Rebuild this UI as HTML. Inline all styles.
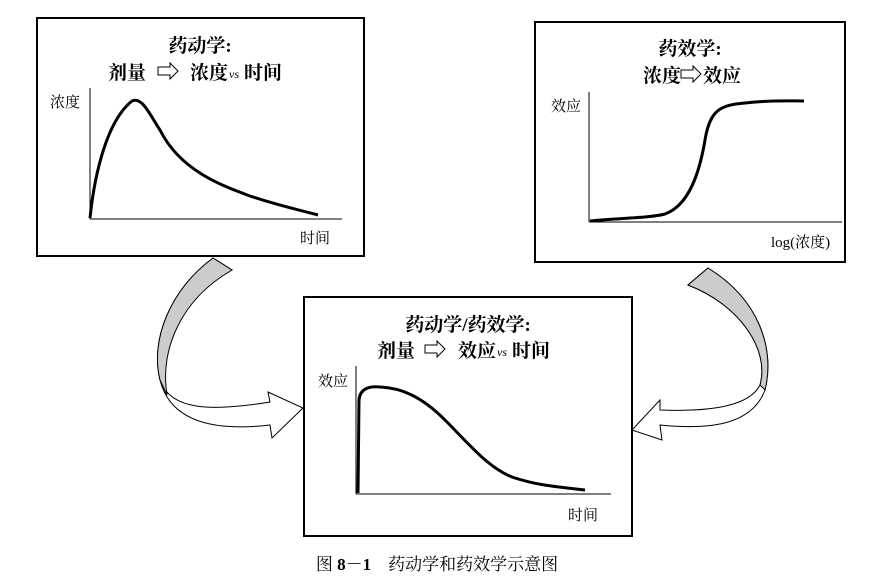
<!DOCTYPE html>
<html><head><meta charset="utf-8"><style>
html,body{margin:0;padding:0;background:#fff;}
svg{display:block;}
text{font-family:"Liberation Serif","Noto Serif CJK SC","Noto Sans CJK SC",serif;fill:#000;}
.t{font-weight:bold;font-size:19px;}
.l{font-size:15px;}
</style></head><body>
<svg width="876" height="580" viewBox="0 0 876 580" xmlns="http://www.w3.org/2000/svg">
<defs>
<g id="ha"><path d="M0,-4 H12 V-8 L20,0 L12,8 V4 H0 Z" fill="#fff" stroke="#000" stroke-width="1"/></g>
</defs>
<!-- left curved arrow -->
<path d="M213,258 C170,290 150,340 160,380 C170,410 210,412 270,402 L268,392 L303,408 L272,438 L270,425 C210,432 170,420 160,380 C150,340 180,300 232,270 Z" fill="#fff" stroke="#000" stroke-width="1"/>
<path d="M213,258 C170,290 150,340 160,380 L167,395 C160,350 180,300 232,270 Z" fill="#ccc" stroke="#000" stroke-width="1"/>
<!-- right curved arrow -->
<path d="M708,268 C760,300 775,350 765,390 C752,425 710,430 660,425 L662,440 L632,430 L660,400 L660,410 C715,412 750,405 760,385 C770,350 740,305 688,285 Z" fill="#fff" stroke="#000" stroke-width="1"/>
<path d="M708,268 C760,300 775,350 765,390 L760,385 C770,350 740,305 688,285 Z" fill="#ccc" stroke="#000" stroke-width="1"/>

<!-- box1 -->
<rect x="37" y="18" width="327" height="238" fill="#fff" stroke="#000" stroke-width="2"/>
<text class="t" x="200" y="52" text-anchor="middle">药动学:</text>
<text class="t" x="108" y="79">剂量</text>
<use href="#ha" x="158" y="71"/>
<text class="t" x="190" y="79">浓度</text>
<text x="229" y="78" font-size="12" font-style="italic">vs</text>
<text class="t" x="244" y="79">时间</text>
<line x1="90" y1="88" x2="90" y2="219" stroke="#000"/>
<line x1="90" y1="219" x2="342" y2="219" stroke="#000"/>
<path d="M90,218 C95,170 108,120 132,101 C142,96 150,115 160,130 C180,170 220,185 250,196 C280,206 300,210 318,215" fill="none" stroke="#000" stroke-width="3"/>
<text class="l" x="50" y="107">浓度</text>
<text class="l" x="300" y="243">时间</text>

<!-- box2 -->
<rect x="535" y="22" width="310" height="240" fill="#fff" stroke="#000" stroke-width="2"/>
<text class="t" x="690" y="55" text-anchor="middle">药效学:</text>
<text class="t" x="643" y="82">浓度</text>
<use href="#ha" x="681" y="74"/>
<text class="t" x="703" y="82">效应</text>
<line x1="589" y1="92" x2="589" y2="222" stroke="#000"/>
<line x1="589" y1="222" x2="842" y2="222" stroke="#000"/>
<path d="M590,221 C620,218 650,218 665,214 C690,205 700,170 705,140 C710,110 720,105 745,103 C770,100 790,101 804,101" fill="none" stroke="#000" stroke-width="3"/>
<text class="l" x="551" y="111">效应</text>
<text class="l" x="771" y="247">log(浓度)</text>

<!-- box3 -->
<rect x="304" y="297" width="328" height="239" fill="#fff" stroke="#000" stroke-width="2"/>
<text class="t" x="468" y="331" text-anchor="middle">药动学/药效学:</text>
<text class="t" x="377" y="357">剂量</text>
<use href="#ha" x="425" y="349"/>
<text class="t" x="458" y="357">效应</text>
<text x="497" y="356" font-size="12" font-style="italic">vs</text>
<text class="t" x="512" y="357">时间</text>
<line x1="356" y1="366" x2="356" y2="494" stroke="#000"/>
<line x1="356" y1="494" x2="611" y2="494" stroke="#000"/>
<path d="M358,493 L359,400 C360,388 370,386 380,387 C400,388 420,395 445,420 C470,445 490,470 515,478 C540,486 560,487 585,490" fill="none" stroke="#000" stroke-width="3"/>
<text class="l" x="318" y="386">效应</text>
<text class="l" x="568" y="520">时间</text>

<!-- caption -->
<text x="437" y="570" text-anchor="middle" font-size="17" font-family="Liberation Sans,'Noto Sans CJK SC',sans-serif">图 <tspan font-weight="bold">8－1</tspan>　药动学和药效学示意图</text>
</svg>
</body></html>
